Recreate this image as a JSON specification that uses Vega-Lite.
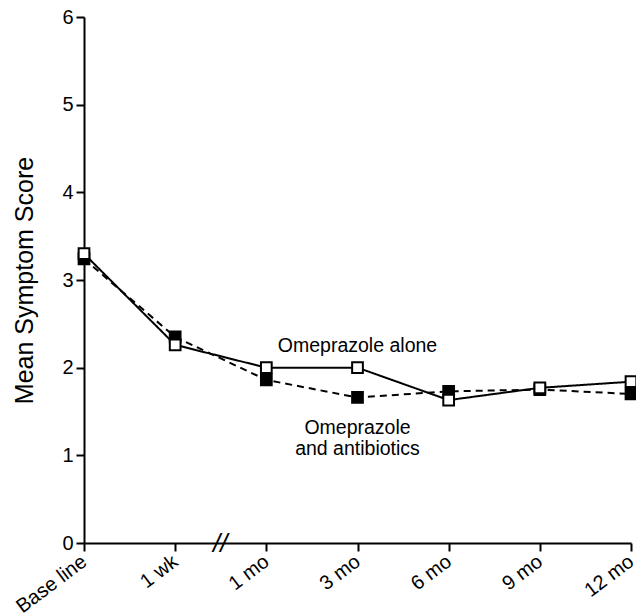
{
  "$schema": "https://vega.github.io/schema/vega-lite/v6.json",
  "autosize": "none",
  "width": 547,
  "height": 526,
  "padding": {"left": 84, "top": 17, "right": 5, "bottom": 72},
  "background": "white",
  "config": {
    "view": {"stroke": null},
    "font": "Liberation Sans",
    "axis": {
      "domainColor": "black", "domainWidth": 2, "tickColor": "black", "tickWidth": 2, "tickSize": 8,
      "labelColor": "black", "labelFontSize": 20, "grid": false, "titleColor": "black"
    }
  },
  "datasets": {
    "scores": [
      {"time": "Base line", "group": "Omeprazole and antibiotics", "score": 3.24},
      {"time": "1 wk", "group": "Omeprazole and antibiotics", "score": 2.35},
      {"time": "1 mo", "group": "Omeprazole and antibiotics", "score": 1.86},
      {"time": "3 mo", "group": "Omeprazole and antibiotics", "score": 1.66},
      {"time": "6 mo", "group": "Omeprazole and antibiotics", "score": 1.73},
      {"time": "9 mo", "group": "Omeprazole and antibiotics", "score": 1.75},
      {"time": "12 mo", "group": "Omeprazole and antibiotics", "score": 1.70},
      {"time": "Base line", "group": "Omeprazole alone", "score": 3.30},
      {"time": "1 wk", "group": "Omeprazole alone", "score": 2.26},
      {"time": "1 mo", "group": "Omeprazole alone", "score": 2.0},
      {"time": "3 mo", "group": "Omeprazole alone", "score": 2.0},
      {"time": "6 mo", "group": "Omeprazole alone", "score": 1.63},
      {"time": "9 mo", "group": "Omeprazole alone", "score": 1.77},
      {"time": "12 mo", "group": "Omeprazole alone", "score": 1.84}
    ],
    "labels": [
      {"time": "3 mo", "score": 2.25, "text": "Omeprazole alone"},
      {"time": "3 mo", "score": 1.31, "text": ["Omeprazole", "and antibiotics"]}
    ],
    "brk": [
      {"time": "1 wk", "score": 0, "text": "//"}
    ]
  },
  "encoding": {
    "x": {
      "field": "time", "type": "ordinal",
      "sort": ["Base line", "1 wk", "1 mo", "3 mo", "6 mo", "9 mo", "12 mo"],
      "scale": {"type": "point", "padding": 0},
      "axis": {"title": null, "labelAngle": -37, "labelFontSize": 20, "labelAlign": "right", "labelBaseline": "top", "labelPadding": 0, "labelOffset": -6}
    },
    "y": {
      "field": "score", "type": "quantitative",
      "scale": {"domain": [0, 6], "nice": false},
      "axis": {"title": "Mean Symptom Score", "titleFontSize": 25, "titleFontWeight": "normal", "titlePadding": 24, "labelPadding": 3, "values": [0, 1, 2, 3, 4, 5, 6]}
    }
  },
  "layer": [
    {
      "data": {"name": "scores"},
      "mark": {"type": "line", "color": "black", "strokeWidth": 2},
      "encoding": {
        "detail": {"field": "group"},
        "strokeDash": {
          "field": "group", "type": "nominal",
          "scale": {"domain": ["Omeprazole alone", "Omeprazole and antibiotics"], "range": [[1, 0], [7, 5]]},
          "legend": null
        }
      }
    },
    {
      "data": {"name": "scores"},
      "transform": [{"filter": "datum.group === 'Omeprazole and antibiotics'"}],
      "mark": {"type": "square", "size": 115, "stroke": "black", "strokeWidth": 2, "fill": "black", "opacity": 1},
      "encoding": {}
    },
    {
      "data": {"name": "scores"},
      "transform": [{"filter": "datum.group === 'Omeprazole alone'"}],
      "mark": {"type": "square", "size": 115, "stroke": "black", "strokeWidth": 2, "fill": "white", "opacity": 1},
      "encoding": {}
    },
    {
      "data": {"name": "labels"},
      "mark": {"type": "text", "fontSize": 19.5, "color": "black", "align": "center", "baseline": "middle", "lineHeight": 21},
      "encoding": {"text": {"field": "text"}}
    },
    {
      "data": {"name": "brk"},
      "mark": {"type": "text", "fontSize": 26, "color": "black", "align": "center", "baseline": "middle", "xOffset": 45, "yOffset": 1, "fontStyle": "italic", "text": "//"},
      "encoding": {}
    }
  ]
}
